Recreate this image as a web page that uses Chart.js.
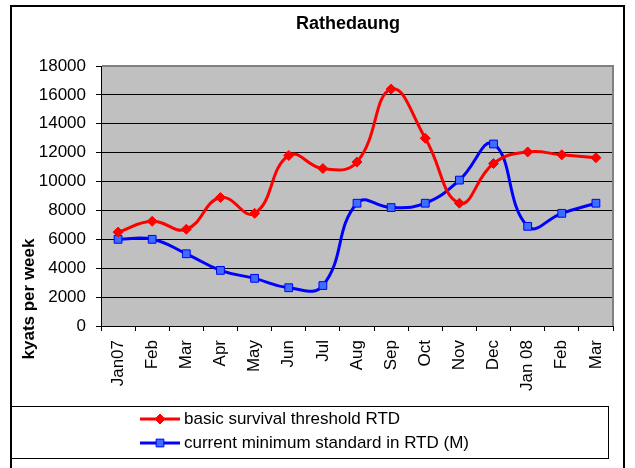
<!DOCTYPE html>
<html>
<head>
<meta charset="utf-8">
<script src="https://cdn.jsdelivr.net/npm/chart.js@4.4.1/dist/chart.umd.min.js"></script>
<style>
  html, body { margin: 0; padding: 0; background: #ffffff; }
  canvas { display: block; }
</style>
</head>
<body>
<canvas id="c" width="635" height="468"></canvas>
<script>
const chartTitle = 'Rathedaung';
const yAxisTitle = 'kyats per week';
const categories = ['Jan07','Feb','Mar','Apr','May','Jun','Jul','Aug','Sep','Oct','Nov','Dec','Jan 08','Feb','Mar'];
const basicLabel = 'basic survival threshold RTD';
const basicValues = [6500, 7250, 6700, 8900, 7800, 11800, 10900, 11350, 16400, 13000, 8500, 11250, 12050, 11850, 11650];
const currentLabel = 'current minimum standard in RTD (M)';
const currentValues = [6000, 6000, 5000, 3850, 3300, 2650, 2800, 8500, 8200, 8500, 10100, 12600, 6900, 7800, 8500];
const yMin = 0, yMax = 18000, yStep = 2000;

const FONT = '"Liberation Sans", Arial, sans-serif';

const decor = {
  id: 'decor',
  beforeDraw(chart) {
    const ctx = chart.ctx, a = chart.chartArea;
    ctx.save();
    ctx.fillStyle = '#ffffff';
    ctx.fillRect(0, 0, chart.width, chart.height);
    ctx.fillStyle = '#c0c0c0';
    ctx.fillRect(a.left, a.top, a.right - a.left, a.bottom - a.top);
    ctx.restore();
  },
  beforeDatasetsDraw(chart) {
    const ctx = chart.ctx, a = chart.chartArea;
    ctx.save();
    ctx.strokeStyle = '#808080';
    ctx.lineWidth = 2;
    ctx.beginPath();
    ctx.moveTo(a.left + 1, a.top);
    ctx.lineTo(a.right, a.top);
    ctx.lineTo(a.right, a.bottom);
    ctx.stroke();
    ctx.restore();
  },
  afterDraw(chart) {
    const ctx = chart.ctx;
    ctx.save();
    // outer frame
    ctx.strokeStyle = '#000000';
    ctx.lineWidth = 2;
    ctx.strokeRect(11, 6, 613, 470);
    // title
    ctx.fillStyle = '#000000';
    ctx.font = 'bold 18px ' + FONT;
    ctx.textAlign = 'center';
    ctx.textBaseline = 'middle';
    ctx.fillText(chartTitle, 348, 24);
    // y axis title
    ctx.save();
    ctx.translate(29, 299);
    ctx.rotate(-Math.PI / 2);
    ctx.font = 'bold 17px ' + FONT;
    ctx.fillText(yAxisTitle, 0, 0);
    ctx.restore();
    // legend box
    ctx.lineWidth = 1;
    ctx.strokeStyle = '#000000';
    ctx.strokeRect(11.5, 406.5, 597, 52);
    const items = chart.data.datasets;
    const ys = [419, 443];
    items.forEach((ds, i) => {
      const y = ys[i];
      ctx.strokeStyle = ds.borderColor;
      ctx.lineWidth = 3;
      ctx.beginPath();
      ctx.moveTo(140, y);
      ctx.lineTo(180, y);
      ctx.stroke();
      ctx.fillStyle = ds.pointBackgroundColor;
      ctx.strokeStyle = ds.pointBorderColor;
      ctx.lineWidth = ds.pointBorderWidth;
      ctx.beginPath();
      if (ds.pointStyle === 'rect') {
        const s = ds.pointRadius * Math.SQRT1_2;
        ctx.rect(160 - s, y - s, 2 * s, 2 * s);
      } else {
        const r = ds.pointRadius;
        ctx.moveTo(160, y - r); ctx.lineTo(160 + r, y); ctx.lineTo(160, y + r); ctx.lineTo(160 - r, y); ctx.closePath();
      }
      ctx.fill();
      ctx.stroke();
      ctx.fillStyle = '#000000';
      ctx.font = '17px ' + FONT;
      ctx.textAlign = 'left';
      ctx.textBaseline = 'middle';
      ctx.fillText(ds.label, 184, y);
    });
    ctx.restore();
  }
};

new Chart(document.getElementById('c'), {
  type: 'line',
  data: {
    labels: categories,
    datasets: [
      {
        label: basicLabel,
        data: basicValues,
        borderColor: '#ff0000',
        borderWidth: 3,
        tension: 0.45,
        pointStyle: 'rectRot',
        pointRadius: 5,
        pointBackgroundColor: '#ff0000',
        pointBorderColor: '#ff0000',
        pointBorderWidth: 1
      },
      {
        label: currentLabel,
        data: currentValues,
        borderColor: '#0000ff',
        borderWidth: 3,
        tension: 0.45,
        pointStyle: 'rect',
        pointRadius: 5.5,
        pointBackgroundColor: '#3c6eff',
        pointBorderColor: '#0000ff',
        pointBorderWidth: 1
      }
    ]
  },
  options: {
    responsive: false,
    animation: false,
    devicePixelRatio: 1,
    layout: { padding: { top: 66, right: 22, left: 0, bottom: 0 } },
    plugins: {
      legend: { display: false },
      title: { display: false },
      tooltip: { enabled: false }
    },
    scales: {
      x: {
        offset: true,
        grid: { display: true, drawOnChartArea: false, drawTicks: true, tickLength: 5, color: '#000000', offset: true },
        border: { display: true, color: '#000000', width: 1 },
        ticks: { color: '#000000', font: { family: FONT, size: 17 }, minRotation: 90, maxRotation: 90, padding: 9, autoSkip: false },
        afterFit(scale) { scale.height = 142; }
      },
      y: {
        min: yMin,
        max: yMax,
        grid: { color: '#000000', lineWidth: 1, tickLength: 5, drawTicks: true },
        border: { display: true, color: '#000000', width: 1 },
        ticks: {
          stepSize: yStep,
          color: '#000000',
          font: { family: FONT, size: 17 },
          padding: 10,
          callback: (v) => String(v)
        },
        afterFit(scale) { scale.width = 101; }
      }
    }
  },
  plugins: [decor]
});
</script>
</body>
</html>
